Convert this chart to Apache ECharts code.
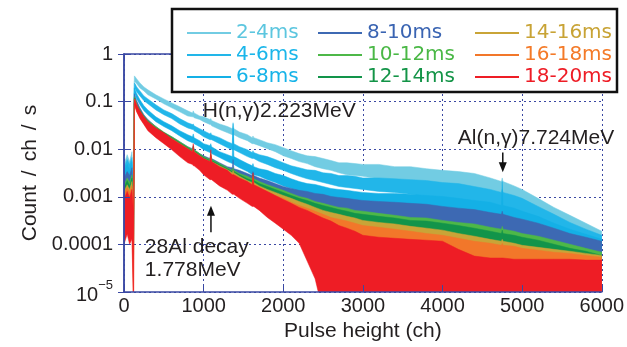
<!DOCTYPE html>
<html><head><meta charset="utf-8">
<script src="https://cdn.jsdelivr.net/npm/echarts@6/dist/echarts.min.js"></script>
<style>html,body{margin:0;padding:0;background:#fff}#c{width:627px;height:347px}</style>
</head><body><div id="c"></div>
<script>
// value used for channels with zero counts (drawn below the axis floor)
const FLOOR = 1e-6;

const channels = [
  0,40,70,100,120,130,140,160,200,250,
  300,400,500,600,700,800,860,870,880,950,
  1000,1080,1090,1100,1200,1300,1360,1370,1380,1450,
  1550,1610,1620,1630,1700,1800,1900,2000,2100,2200,
  2300,2400,2500,2600,2700,2800,2900,3000,3200,3400,
  3600,3800,4000,4200,4400,4600,4740,4750,4760,4900,
  5000,5200,5400,5600,5800,6000];

// upper / lower noise envelopes of each spectrum (count/ch/s)
const hi_2_4 = [
  0.0048,0.0077,0.0055,0.0089,0.0018,0.347,0.331,0.300,0.247,0.204,
  0.177,0.139,0.114,0.094,0.078,0.064,0.058,0.064,0.058,0.050,
  0.048,0.042,0.044,0.040,0.034,0.030,0.027,0.034,0.027,0.023,
  0.0202,0.0175,0.019,0.0175,0.0159,0.0137,0.0125,0.0108,0.0093,0.0081,
  0.0073,0.0070,0.0064,0.0058,0.0052,0.0052,0.0050,0.0048,0.0048,0.0043,
  0.0043,0.0039,0.0036,0.0034,0.0031,0.0025,0.0021,0.0025,0.0021,0.0017,
  0.00143,0.00093,0.00060,0.00041,0.00028,0.00019];
const lo_2_4 = [
  0.00088,0.00143,0.00097,0.00157,0.00021,0.272,0.259,0.236,0.194,0.168,
  0.139,0.114,0.090,0.074,0.061,0.050,0.048,0.048,0.046,0.042,
  0.038,0.033,0.033,0.031,0.026,0.0222,0.0202,0.0202,0.0202,0.0175,
  0.0151,0.0131,0.0131,0.0131,0.0119,0.0103,0.0089,0.0073,0.0064,0.0055,
  0.0050,0.0043,0.0039,0.0036,0.0032,0.0029,0.0028,0.0027,0.0024,0.0023,
  0.0022,0.0020,0.00182,0.00157,0.00130,0.00107,0.00088,0.00088,0.00088,0.00066,
  0.00054,0.00032,0.00019,0.000128,0.000087,0.000065];

const hi_4_6 = [
  0.0041,0.0061,0.0048,0.0067,0.00143,0.247,0.236,0.204,0.168,0.132,
  0.114,0.086,0.067,0.056,0.044,0.036,0.033,0.034,0.031,0.027,
  0.0245,0.021,0.0222,0.0202,0.0175,0.0144,0.0131,0.036,0.0131,0.0113,
  0.0098,0.0085,0.0093,0.0085,0.0077,0.0070,0.0061,0.0052,0.0045,0.0041,
  0.0037,0.0036,0.0032,0.0031,0.0028,0.0028,0.0027,0.0025,0.0025,0.0024,
  0.0023,0.0022,0.0020,0.0019,0.00165,0.00143,0.00124,0.00143,0.00124,0.00107,
  0.00093,0.00063,0.00043,0.00029,0.00021,0.000156];
const lo_4_6 = [
  0.00070,0.00107,0.00077,0.00113,0.000156,0.194,0.185,0.160,0.132,0.104,
  0.090,0.067,0.053,0.044,0.034,0.028,0.026,0.026,0.0245,0.021,
  0.0183,0.0159,0.0159,0.0159,0.0131,0.0108,0.0098,0.0098,0.0098,0.0085,
  0.0070,0.0064,0.0064,0.0064,0.0055,0.0048,0.0041,0.0036,0.0031,0.0027,
  0.0024,0.0022,0.0020,0.00182,0.00165,0.00157,0.00150,0.00143,0.00130,0.00124,
  0.00113,0.00102,0.00093,0.00080,0.00070,0.00054,0.00047,0.00047,0.00047,0.00037,
  0.00029,0.00018,0.000123,0.000083,0.000059,0.000045];

const hi_6_8 = [
  0.0034,0.0048,0.0037,0.0055,0.00113,0.194,0.177,0.146,0.109,0.082,
  0.067,0.048,0.038,0.031,0.0245,0.0202,0.0183,0.021,0.0175,0.0151,
  0.0131,0.0119,0.0131,0.0113,0.0089,0.0077,0.0070,0.028,0.0070,0.0061,
  0.0050,0.0045,0.0050,0.0043,0.0039,0.0036,0.0031,0.0028,0.0024,0.0021,
  0.0019,0.00182,0.00165,0.00150,0.00143,0.00137,0.00130,0.00124,0.00118,0.00118,
  0.00113,0.00107,0.00102,0.00093,0.00084,0.00077,0.00066,0.0021,0.00066,0.00058,
  0.00050,0.00039,0.00028,0.00021,0.000164,0.000128];
const lo_6_8 = [
  0.00054,0.00088,0.00066,0.00088,0.000128,0.153,0.139,0.114,0.086,0.064,
  0.053,0.038,0.030,0.0245,0.019,0.0151,0.0137,0.0137,0.0131,0.0113,
  0.0098,0.0085,0.0085,0.0081,0.0067,0.0055,0.0050,0.0050,0.0048,0.0041,
  0.0034,0.0029,0.0029,0.0029,0.0027,0.0023,0.0020,0.0017,0.00150,0.00130,
  0.00113,0.00102,0.00093,0.00084,0.00073,0.00070,0.00063,0.00058,0.00052,0.00050,
  0.00043,0.00041,0.00036,0.00031,0.00025,0.00021,0.00018,0.00018,0.00018,0.000142,
  0.000117,0.000087,0.000065,0.000052,0.000043,0.000037];

const hi_8_10 = [
  0.0025,0.0034,0.0028,0.0041,0.00088,0.146,0.132,0.104,0.074,0.053,
  0.042,0.030,0.0222,0.0183,0.0144,0.0113,0.0103,0.0119,0.0098,0.0081,
  0.0073,0.0064,0.0077,0.0064,0.0052,0.0043,0.0041,0.0061,0.0039,0.0036,
  0.0031,0.0028,0.0034,0.0028,0.0025,0.0022,0.0019,0.00165,0.00150,0.00137,
  0.00130,0.00118,0.00113,0.00102,0.00097,0.00093,0.00088,0.00084,0.00080,0.00077,
  0.00073,0.00070,0.00063,0.00058,0.00054,0.00047,0.00043,0.00050,0.00043,0.00037,
  0.00034,0.00028,0.00022,0.00017,0.000142,0.000117];
const lo_8_10 = [
  0.00043,0.00060,0.00050,0.00066,0.000101,0.120,0.109,0.086,0.061,0.044,
  0.034,0.0245,0.0183,0.0137,0.0108,0.0085,0.0077,0.0073,0.0073,0.0061,
  0.0050,0.0043,0.0043,0.0043,0.0036,0.0029,0.0025,0.0025,0.0025,0.0022,
  0.0019,0.0017,0.0017,0.00165,0.00150,0.00124,0.00107,0.00093,0.00077,0.00070,
  0.00060,0.00054,0.00047,0.00043,0.00039,0.00036,0.00034,0.00032,0.00028,0.00024,
  0.00022,0.00020,0.00018,0.000164,0.000142,0.000123,0.000112,0.000112,0.000112,0.000096,
  0.000087,0.000072,0.000057,0.000045,0.000037,0.000030];

const hi_10_12 = [
  0.0018,0.0025,0.0020,0.0029,0.00070,0.126,0.114,0.090,0.067,0.050,
  0.040,0.030,0.023,0.0183,0.0144,0.0113,0.0098,0.0113,0.0098,0.0081,
  0.0070,0.0061,0.0073,0.0061,0.0050,0.0041,0.0036,0.0041,0.0036,0.0031,
  0.0027,0.0024,0.0028,0.0024,0.0021,0.0018,0.00157,0.00137,0.00118,0.00102,
  0.00093,0.00080,0.00073,0.00066,0.00060,0.00058,0.00052,0.00050,0.00045,0.00041,
  0.00037,0.00036,0.00032,0.00029,0.00027,0.00023,0.00021,0.00024,0.00021,0.00019,
  0.00017,0.000149,0.000123,0.000101,0.000083,0.000069];
const lo_10_12 = [
  0.00027,0.00043,0.00034,0.00045,0.000079,0.099,0.090,0.071,0.053,0.040,
  0.030,0.021,0.0167,0.0125,0.0098,0.0077,0.0067,0.0067,0.0067,0.0055,
  0.0045,0.0039,0.0039,0.0037,0.0031,0.0025,0.0022,0.0022,0.0022,0.0018,
  0.00150,0.00130,0.00130,0.00130,0.00113,0.00088,0.00073,0.00060,0.00050,0.00041,
  0.00034,0.00028,0.00023,0.00019,0.000156,0.000128,0.000106,0.000087,0.000072,0.000059,
  0.000049,0.000040,0.000033,0.000027,0.000023,0.000019,0.000017,0.000017,0.000017,0.000016,
  0.000014,0.000013,0.0000116,0.0000105,0.0000095,0.0000087];

const hi_12_14 = [
  0.00157,0.0022,0.0017,0.0025,0.00060,0.120,0.109,0.086,0.064,0.048,
  0.038,0.028,0.0222,0.0175,0.0137,0.0108,0.0093,0.0119,0.0093,0.0077,
  0.0067,0.0058,0.0081,0.0058,0.0048,0.0039,0.0034,0.0037,0.0034,0.0029,
  0.0024,0.0022,0.0029,0.0022,0.0019,0.00165,0.00143,0.00124,0.00107,0.00093,
  0.00084,0.00073,0.00066,0.00060,0.00054,0.00050,0.00045,0.00043,0.00039,0.00036,
  0.00032,0.00031,0.00028,0.00025,0.00022,0.00019,0.00017,0.00020,0.00017,0.000156,
  0.000142,0.000123,0.000101,0.000083,0.000072,0.000059];
const lo_12_14 = [
  0.00023,0.00037,0.00028,0.00039,0.000062,0.094,0.086,0.067,0.050,0.038,
  0.028,0.0202,0.0159,0.0119,0.0093,0.0073,0.0064,0.0064,0.0064,0.0052,
  0.0043,0.0036,0.0036,0.0036,0.0029,0.0023,0.0020,0.0020,0.0020,0.00165,
  0.00137,0.00118,0.00118,0.00118,0.00097,0.00077,0.00063,0.00052,0.00043,0.00036,
  0.00029,0.00024,0.00019,0.000156,0.000128,0.000106,0.000087,0.000072,0.000059,0.000049,
  0.000040,0.000033,0.000027,0.000023,0.000019,0.000016,0.000014,0.000014,0.000014,0.000013,
  0.0000116,0.0000105,0.0000095,0.0000087,0.0000079,0.0000072];

const hi_14_16 = [
  0.00130,0.0018,0.00143,0.0021,0.00054,0.114,0.104,0.082,0.061,0.046,
  0.036,0.027,0.021,0.0167,0.0131,0.0103,0.0089,0.0108,0.0089,0.0073,
  0.0064,0.0055,0.0073,0.0055,0.0045,0.0037,0.0032,0.0036,0.0032,0.0027,
  0.0022,0.0020,0.0027,0.0020,0.0017,0.00143,0.00124,0.00107,0.00093,0.00080,
  0.00070,0.00060,0.00052,0.00047,0.00043,0.00039,0.00036,0.00032,0.00029,0.00027,
  0.00024,0.00022,0.00020,0.00017,0.000149,0.000128,0.000117,0.000128,0.000117,0.000106,
  0.000096,0.000087,0.000079,0.000072,0.000065,0.000059];
const lo_14_16 = [
  0.00019,0.00027,0.00021,0.00031,0.000049,0.090,0.082,0.064,0.048,0.036,
  0.027,0.019,0.0151,0.0113,0.0089,0.0070,0.0061,0.0061,0.0061,0.0050,
  0.0041,0.0034,0.0034,0.0034,0.0027,0.0021,0.0018,0.0018,0.0018,0.00150,
  0.00118,0.00102,0.00102,0.00102,0.00084,0.00066,0.00052,0.00041,0.00032,0.00024,
  0.00017,0.000117,0.000079,FLOOR,FLOOR,FLOOR,FLOOR,FLOOR,FLOOR,FLOOR,
  FLOOR,FLOOR,FLOOR,FLOOR,FLOOR,FLOOR,FLOOR,FLOOR,FLOOR,FLOOR,
  FLOOR,FLOOR,FLOOR,FLOOR,FLOOR,FLOOR];

const hi_16_18 = [
  0.00113,0.00157,0.00124,0.0017,0.00050,0.114,0.104,0.082,0.061,0.046,
  0.036,0.027,0.021,0.0159,0.0125,0.0098,0.0085,0.0103,0.0085,0.0070,
  0.0061,0.0052,0.0077,0.0052,0.0041,0.0034,0.0029,0.0031,0.0029,0.0024,
  0.0020,0.0018,0.0025,0.0018,0.00157,0.00130,0.00107,0.00093,0.00077,0.00066,
  0.00058,0.00050,0.00043,0.00037,0.00034,0.00031,0.00028,0.00025,0.00023,0.00021,
  0.00019,0.00017,0.000156,0.000135,0.000117,0.000106,0.000096,0.000106,0.000096,0.000092,
  0.000083,0.000076,0.000069,0.000065,0.000059,0.000054];
const lo_16_18 = [
  0.000156,0.00023,0.00017,0.00025,FLOOR,0.090,0.078,0.061,0.046,0.034,
  0.026,0.0183,0.0144,0.0108,0.0081,0.0064,0.0055,0.0055,0.0055,0.0043,
  0.0036,0.0029,0.0029,0.0029,0.0022,0.0017,0.00150,0.00150,0.00150,0.00124,
  0.00097,0.00084,0.00084,0.00084,0.00066,0.00050,0.00037,0.00028,0.00020,0.000128,
  0.000062,0.000024,FLOOR,FLOOR,FLOOR,FLOOR,FLOOR,FLOOR,FLOOR,FLOOR,
  FLOOR,FLOOR,FLOOR,FLOOR,FLOOR,FLOOR,FLOOR,FLOOR,FLOOR,FLOOR,
  FLOOR,FLOOR,FLOOR,FLOOR,FLOOR,FLOOR];

const hi_18_20 = [
  0.00088,0.00130,0.00097,0.00143,0.00043,0.114,0.104,0.086,0.064,0.048,
  0.038,0.028,0.0222,0.0167,0.0131,0.0103,0.0089,0.0131,0.0089,0.0073,
  0.0064,0.0055,0.0098,0.0055,0.0043,0.0036,0.0029,0.0029,0.0029,0.0025,
  0.0021,0.0018,0.0032,0.0018,0.00157,0.00130,0.00107,0.00088,0.00073,0.00060,
  0.00052,0.00043,0.00036,0.00031,0.00025,0.00022,0.00019,0.000156,0.000142,0.000135,
  0.000128,0.000123,0.000117,0.000079,0.000057,0.000052,0.000052,0.000052,0.000052,0.000049,
  0.000049,0.000049,0.000049,0.000049,0.000047,0.000047];
const lo_18_20 = [
  0.000101,0.000164,0.000101,0.000128,FLOOR,0.090,0.078,0.061,0.044,0.033,
  0.0245,0.0175,0.0131,0.0098,0.0070,0.0052,0.0048,0.0045,0.0045,0.0036,
  0.0029,0.0023,0.0023,0.0023,0.0017,0.00137,0.00113,0.00113,0.00113,0.00093,
  0.00073,0.00063,0.00063,0.00063,0.00052,0.00037,0.00028,0.00021,0.000156,0.000106,
  0.000045,0.000019,FLOOR,FLOOR,FLOOR,FLOOR,FLOOR,FLOOR,FLOOR,FLOOR,
  FLOOR,FLOOR,FLOOR,FLOOR,FLOOR,FLOOR,FLOOR,FLOOR,FLOOR,FLOOR,
  FLOOR,FLOOR,FLOOR,FLOOR,FLOOR,FLOOR];

const seriesNames = ['2-4ms','4-6ms','6-8ms','8-10ms','10-12ms','12-14ms','14-16ms','16-18ms','18-20ms'];
const hiArrays = [hi_2_4,hi_4_6,hi_6_8,hi_8_10,hi_10_12,hi_12_14,hi_14_16,hi_16_18,hi_18_20];
const loArrays = [lo_2_4,lo_4_6,lo_6_8,lo_8_10,lo_10_12,lo_12_14,lo_14_16,lo_16_18,lo_18_20];
const seriesColors = ['#72cce3','#22b6e9','#14b0e6','#3d69b3','#4db848','#12944a','#c9a437','#f2772a','#ee1d25'];
const legendTextColors = ['#5cc6df','#1ab6ea','#16b3e8','#3a64b2','#4ab846','#139447','#c8a335','#f47a28','#ee1c25'];

const xTickLabels = ['0','1000','2000','3000','4000','5000','6000'];
const yTickLabels = ['{b|10}{s|\u22125}', '0.0001', '0.001', '0.01', '0.1', '1'];

const annotationTexts = [
  {text: 'H(n,\u03b3)2.223MeV', ch: 990, val: 0.062},
  {text: 'Al(n,\u03b3)7.724MeV', ch: 4192, val: 0.017},
  {text: '28Al decay', ch: 262, val: 8.8e-5},
  {text: '1.778MeV', ch: 262, val: 2.9e-5}
];
const annotationArrows = [
  {ch: 4757, from: 0.0085, to: 0.0033},
  {ch: 1092, from: 1.8e-4, to: 6.5e-4}
];

const FONT = '"Liberation Sans", Arial, sans-serif';
const AXIS_BLUE = '#3a48a3';
const TEXT = '#231f20';

// each spectrum drawn as a filled band between its lower and upper envelopes
function bandRenderer(color) {
  return function (params, api) {
    if (params.dataIndex !== 0) return null;
    const n = params.dataInsideLength;
    const cs = params.coordSys;
    const top = cs.y - 20, bottom = cs.y + cs.height + 20;
    const clampY = p => [p[0], Math.max(top, Math.min(bottom, p[1]))];
    const upper = [], lower = [];
    for (let i = 0; i < n; i++) {
      const x = api.value(0, i);
      upper.push(clampY(api.coord([x, api.value(2, i)])));
      lower.push(clampY(api.coord([x, api.value(1, i)])));
    }
    const pts = upper.concat(lower.reverse());
    return {
      type: 'polygon',
      shape: {points: pts},
      style: {fill: color, stroke: color, lineWidth: 0.5, lineJoin: 'round'}
    };
  };
}

const series = seriesNames.map((name, k) => ({
  name, type: 'custom', silent: true, clip: true,
  xAxisIndex: 0, yAxisIndex: 0,
  itemStyle: {color: seriesColors[k]},
  encode: {x: 0, y: [1, 2]},
  data: channels.map((c, i) => [c, loArrays[k][i], hiArrays[k][i]]),
  renderItem: bandRenderer(seriesColors[k])
}));

const legendLefts = [182, 313, 470];
const legends = [0, 1, 2].map(col => ({
  orient: 'vertical', left: legendLefts[col], top: 17,
  itemWidth: 44, itemHeight: 2, itemGap: 0, icon: 'rect',
  selectedMode: false, z: 20,
  textStyle: {fontFamily: '"DejaVu Sans", sans-serif', fontSize: 20, lineHeight: 22},
  data: seriesNames.slice(col * 3, col * 3 + 3).map((n, j) => ({
    name: n, itemStyle: {color: seriesColors[col * 3 + j]},
    textStyle: {color: legendTextColors[col * 3 + j]}
  }))
}));

const xBase = {type: 'value', min: 0, max: 6000, interval: 1000};
const yBase = {type: 'log', logBase: 10, min: 1e-5, max: 1};

const nameRich = {
  t: {fontFamily: FONT, fontSize: 21, color: TEXT},
  sl: {fontFamily: FONT, fontSize: 21, color: TEXT, padding: [0, 9]}
};

const option = {
  animation: false,
  backgroundColor: '#fff',
  grid: {left: 124, right: 24, top: 54, bottom: 54, containLabel: false},
  legend: legends,
  xAxis: [
    Object.assign({}, xBase, {
      z: 0, axisLine: {show: false}, axisTick: {show: false}, axisLabel: {show: false},
      splitLine: {show: true, lineStyle: {color: AXIS_BLUE, width: 1, type: [2, 3]}}
    }),
    Object.assign({}, xBase, {
      position: 'bottom', z: 10,
      axisLine: {show: true, lineStyle: {color: AXIS_BLUE, width: 1.5}},
      axisTick: {show: true, inside: true, length: 7, lineStyle: {color: AXIS_BLUE, width: 1}},
      axisLabel: {show: true, margin: 4, fontFamily: FONT, fontSize: 20, color: TEXT,
        formatter: v => xTickLabels[Math.round(v / 1000)]},
      splitLine: {show: false},
      name: 'Pulse height (ch)', nameLocation: 'middle', nameGap: 27,
      nameTextStyle: {fontFamily: FONT, fontSize: 21, color: TEXT}
    }),
    Object.assign({}, xBase, {
      position: 'top', z: 10,
      axisLine: {show: true, lineStyle: {color: AXIS_BLUE, width: 1.5}},
      axisTick: {show: true, inside: true, length: 5, lineStyle: {color: AXIS_BLUE}},
      axisLabel: {show: false}, splitLine: {show: false}
    })
  ],
  yAxis: [
    Object.assign({}, yBase, {
      z: 0, axisLine: {show: false}, axisTick: {show: false}, axisLabel: {show: false},
      splitLine: {show: true, lineStyle: {color: AXIS_BLUE, width: 1, type: [2, 3]}}
    }),
    Object.assign({}, yBase, {
      position: 'left', z: 10,
      axisLine: {show: true, lineStyle: {color: AXIS_BLUE, width: 1.5}},
      axisTick: {show: true, inside: true, length: 6, lineStyle: {color: AXIS_BLUE}},
      axisLabel: {
        show: true, margin: 11, fontFamily: FONT, fontSize: 20, color: TEXT,
        formatter: v => yTickLabels[Math.round(Math.log10(v)) + 5],
        rich: {
          b: {fontFamily: FONT, fontSize: 20, color: TEXT, lineHeight: 26, verticalAlign: 'bottom'},
          s: {fontFamily: FONT, fontSize: 13, color: TEXT, lineHeight: 26, verticalAlign: 'top'}
        }
      },
      splitLine: {show: false},
      name: '{t|Count}{sl|/}{t|ch}{sl|/}{t|s}', nameLocation: 'middle', nameGap: 80,
      nameTextStyle: {fontFamily: FONT, fontSize: 21, color: TEXT, rich: nameRich}
    }),
    Object.assign({}, yBase, {
      position: 'right', z: 10,
      axisLine: {show: true, lineStyle: {color: AXIS_BLUE, width: 1.5}},
      axisTick: {show: true, inside: true, length: 6, lineStyle: {color: AXIS_BLUE}},
      axisLabel: {show: false}, splitLine: {show: false}
    })
  ],
  series
};

const chart = echarts.init(document.getElementById('c'), null, {renderer: 'canvas'});
chart.setOption(option);

// annotations placed in data coordinates and converted with the chart's own scales
const toPx = (c, v) => chart.convertToPixel({xAxisIndex: 0, yAxisIndex: 0}, [c, v]);
const graphics = [{
  type: 'rect', z: 15,
  shape: {x: 172, y: 9, width: 445, height: 83},
  style: {fill: '#fff', stroke: '#111', lineWidth: 2.5}
}];
annotationTexts.forEach(a => {
  const p = toPx(a.ch, a.val);
  graphics.push({
    type: 'text', z: 30, x: p[0], y: p[1],
    style: {text: a.text, font: '21px ' + FONT, fill: TEXT, align: 'left', verticalAlign: 'middle'}
  });
});
annotationArrows.forEach(a => {
  const p0 = toPx(a.ch, a.from), p1 = toPx(a.ch, a.to);
  const dir = p1[1] > p0[1] ? 1 : -1;
  const headLen = 10, headW = 4;
  graphics.push({
    type: 'line', z: 30,
    shape: {x1: p0[0], y1: p0[1], x2: p1[0], y2: p1[1] - dir * headLen + dir},
    style: {stroke: '#111', lineWidth: 1.5}
  });
  graphics.push({
    type: 'polygon', z: 30,
    shape: {points: [[p1[0], p1[1]], [p1[0] - headW, p1[1] - dir * headLen], [p1[0] + headW, p1[1] - dir * headLen]]},
    style: {fill: '#111'}
  });
});
chart.setOption({graphic: graphics});
</script>
</body></html>
